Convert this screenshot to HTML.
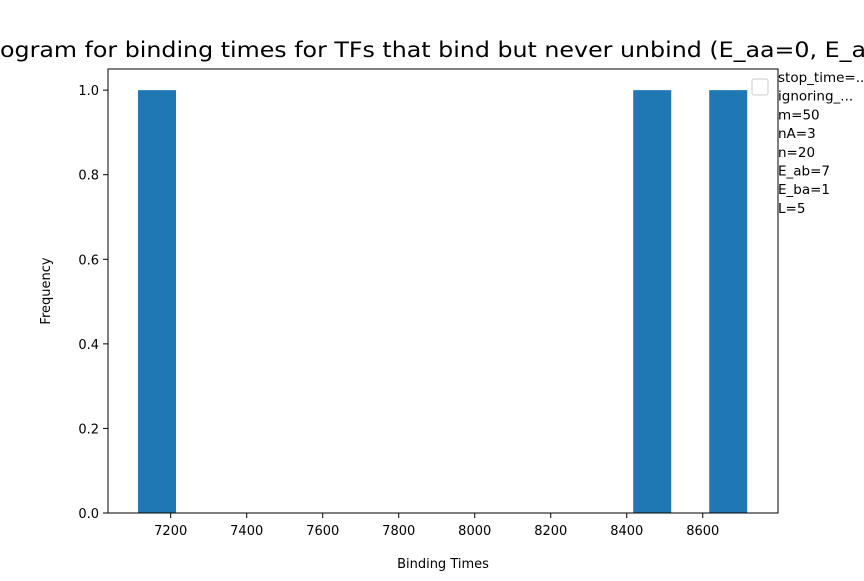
<!DOCTYPE html>
<html><head><meta charset="utf-8"><style>
body{margin:0;background:#fff;width:864px;height:576px;overflow:hidden}
svg{font-family:"DejaVu Sans","Liberation Sans",sans-serif}
</style></head><body>
<svg id="c" width="864" height="576" xmlns="http://www.w3.org/2000/svg">
<g font-size="21">
<text x="0" y="57" text-anchor="end">Hist</text>
<text x="0" y="57" textLength="866" lengthAdjust="spacingAndGlyphs">ogram for binding times for TFs that bind but never unbind (E_aa=0, E_a</text>
<text x="866" y="57">b=7, E_ba=1)</text>
</g>
<g id="bars"></g>
<g id="axes"></g>
<text x="443" y="568" font-size="13" text-anchor="middle">Binding Times</text>
<text transform="translate(50,291) rotate(-90)" font-size="13" text-anchor="middle">Frequency</text>
<rect x="108" y="69" width="670" height="444" fill="none" stroke="#000" stroke-width="1"/>
<g font-size="13">
<rect x="752" y="79" width="16" height="16" rx="2" fill="#fff" stroke="#ccc"/>
<g id="leg"></g>
</g>
</svg>
<script>
const binCenters=[7164,8467,8667];
const counts=[1,1,1];
const binWidth=100;
const xTicks=[7200,7400,7600,7800,8000,8200,8400,8600];
const yTicks=[0.0,0.2,0.4,0.6,0.8,1.0];
const legendLines=["stop_time=...","ignoring_...","m=50","nA=3","n=20","E_ab=7","E_ba=1","L=5"];
const NS="http://www.w3.org/2000/svg";
const X0=108,X1=778,Y0=513,Y1=69,xmin=7035,xmax=8798,ymin=0,ymax=1.05;
const xs=v=>X0+(v-xmin)/(xmax-xmin)*(X1-X0);
const ys=v=>Y0-(v-ymin)/(ymax-ymin)*(Y0-Y1);
function mk(t,a,p){const e=document.createElementNS(NS,t);for(const k in a)e.setAttribute(k,a[k]);p.appendChild(e);return e;}
const bg=document.getElementById('bars');
binCenters.forEach((c,i)=>{
 const r=mk('rect',{x:xs(c-binWidth/2),y:ys(counts[i]),width:xs(c+binWidth/2)-xs(c-binWidth/2),height:ys(0)-ys(counts[i]),fill:'#1f77b4'},bg);
 
 
});
const ax=document.getElementById('axes');
xTicks.forEach(t=>{
 const x=xs(t);
 const l=mk('line',{x1:x,x2:x,y1:Y0,y2:Y0+5,stroke:'#000'},ax);
 
 
 const tx=mk('text',{x:x,y:Y0+22,'font-size':13,'text-anchor':'middle'},ax);tx.textContent=t;
 
 
});
yTicks.forEach(t=>{
 const y=ys(t);
 const l=mk('line',{x1:X0-5,x2:X0,y1:y,y2:y,stroke:'#000'},ax);
 
 
 const tx=mk('text',{x:X0-9,y:y+5,'font-size':13,'text-anchor':'end'},ax);tx.textContent=t.toFixed(1);
 
 
});
const lg=document.getElementById('leg');
legendLines.forEach((s,i)=>{
 const tx=mk('text',{x:778,y:78+i*18.7,'font-size':13.5,'dominant-baseline':'middle'},lg);
 tx.textContent=s;
 
 
});
</script>
</body></html>
